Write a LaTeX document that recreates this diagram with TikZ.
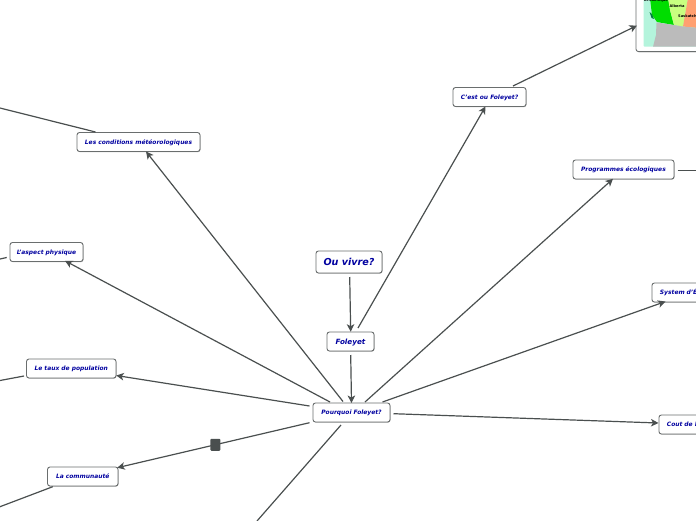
\documentclass[tikz,border=0pt]{standalone}
\usepackage{fontspec}
\setmainfont{DejaVu Sans}
\usetikzlibrary{arrows.meta,calc,shadows}
\definecolor{edgecol}{HTML}{4A4F4F}
\definecolor{txtcol}{HTML}{0000A0}
\definecolor{bordercol}{HTML}{6A6E6E}
\tikzset{
  topic/.style={draw=bordercol,fill=white,line width=0.9pt,rounded corners=2.5pt,inner sep=0pt,
    text=txtcol,font=\fontsize{5.95}{7}\selectfont\bfseries\itshape,text height=4.8pt,text depth=0pt,
    general shadow={shadow xshift=0.5pt,shadow yshift=-0.6pt,fill=gray!70}},
  conn/.style={draw=edgecol,line width=1.2pt},
  arr/.style={conn,-{Stealth[length=7.5pt,width=7.5pt,inset=2pt]}},
  maplabel/.style={font=\fontsize{3.6}{4}\selectfont\bfseries,text=black,inner sep=0pt},
}
\begin{document}
\begin{tikzpicture}[x=1pt,y=-1pt]
\useasboundingbox (0,0) rectangle (696,520);
\clip (0,0) rectangle (696,520);
% map card
\node[topic,minimum width=90pt,minimum height=90pt,anchor=south west] (map) at (635.5,52) {};
\fill[fill=white] (640,-5) rectangle (696,50);
\fill[fill={rgb,255:red,180;green,244;blue,220},rounded corners=1pt] (643.5,-5) rectangle (700,46.7);
\fill[fill={rgb,255:red,0;green,221;blue,0}] (650,-2) -- (652,15) -- (657,22) -- (674,25) -- (670,10) -- (668,-2) -- cycle;
\fill[fill={rgb,255:red,200;green,255;blue,128}] (668,-2) -- (670,10) -- (674,25) -- (683,26.5) -- (688,-2) -- cycle;
\fill[fill={rgb,255:red,255;green,160;blue,112}] (688,-2) -- (683,26.5) -- (698,28) -- (698,-2) -- cycle;
\fill[fill={rgb,255:red,187;green,187;blue,187}] (656.5,22.5) -- (674,25) -- (683,26.5) -- (698,28) -- (698,46.7) -- (653,46.7) -- (656,35) -- cycle;
\fill[fill={rgb,255:red,0;green,130;blue,60}] (649.5,12) -- (652,14) -- (654,19) -- (651.5,18) -- cycle;
\node[maplabel] (bc) at (656,1) {Britannique};
\node[maplabel] (ab) at (677,6) {Alberta};
\node[maplabel,anchor=west] (sk) at (678,16) {Saskatch};
% topics
\node[topic,minimum width=66pt,minimum height=22pt,font=\fontsize{9.6}{12}\selectfont\bfseries\itshape,text height=7pt] (ou) at (349,262) {Ou vivre?};
\node[topic,minimum width=47pt,minimum height=19pt,font=\fontsize{7.2}{9}\selectfont\bfseries\itshape,text height=5.5pt] (fol) at (350.5,341.5) {Foleyet};
\node[topic,minimum width=77pt,minimum height=19pt] (pq) at (351.5,412.5) {Pourquoi Foleyet?};
\node[topic,minimum width=73pt,minimum height=19pt] (cest) at (489.5,97) {C'est ou Foleyet?};
\node[topic,minimum width=101pt,minimum height=19pt] (prog) at (623.5,169.5) {Programmes écologiques};
\node[topic,minimum width=123pt,minimum height=19pt] (meteo) at (138.5,142) {Les conditions météorologiques};
\node[topic,minimum width=73pt,minimum height=19pt] (phys) at (46.5,252) {L'aspect physique};
\node[topic,minimum width=89.5pt,minimum height=19pt] (taux) at (71.25,368.5) {Le taux de population};
\node[topic,minimum width=70.5pt,minimum height=19pt] (comm) at (82.75,476.5) {La communauté};
\node[topic,minimum height=19pt,text width=80pt,align=left,inner xsep=8pt,anchor=west] (sys) at (651.5,292.5) {System d'É};
\node[topic,minimum height=19pt,text width=80pt,align=left,inner xsep=8pt,anchor=west] (cout) at (658.5,424.5) {Cout de l};
% free ends
\coordinate (fprog) at (696,170.7);
\coordinate (fmeteo) at (0,108);
\coordinate (fphys) at (0,259);
\coordinate (ftaux) at (0,380.5);
\coordinate (fcomm) at (0,506.7);
\coordinate (fbottom) at (257,521);
% connectors
\draw[arr] ($(ou)+(0.7,15)$) -- ($(fol)+(0.2,-9.8)$);
\draw[arr] ($(fol)+(0.2,13.5)$) -- ($(pq)+(0,-9.5)$);
\draw[arr] ($(fol)+(7.5,-13.5)$) -- ($(cest)+(-4,9.5)$);
\draw[arr] ($(cest)+(23.5,-11)$) -- ($(map.west)+(1.5,19)$);
\draw[arr] ($(pq)+(13.5,-10.5)$) -- ($(prog)+(-10.5,9.3)$);
\draw[arr] ($(pq)+(31,-10.5)$) -- ($(sys.west)+(14,9)$);
\draw[arr] ($(pq)+(42,1.2)$) -- ($(cout.west)+(0,-1.5)$);
\draw[arr] ($(pq)+(-8.5,-11)$) -- ($(meteo)+(7.5,9.5)$);
\draw[arr] ($(pq)+(-21.5,-10.5)$) -- ($(phys)+(18.5,8.8)$);
\draw[arr] ($(pq)+(-42,-6.5)$) -- ($(taux)+(45,7)$);
\draw[arr] ($(pq)+(-42,10.2)$) -- node[pos=0.49,fill=edgecol,minimum width=10pt,minimum height=12pt,inner sep=0pt,rounded corners=1pt] (mark) {} ($(comm)+(34.5,-8.8)$);
\draw[conn] ($(pq)+(-10.5,12.5)$) -- (fbottom);
\draw[conn] ($(prog)+(54.2,1.2)$) -- (fprog);
\draw[conn] ($(meteo)+(-43,-10)$) -- (fmeteo);
\draw[conn] ($(phys)+(-39.8,5.5)$) -- (fphys);
\draw[conn] ($(taux)+(-47.2,7.5)$) -- (ftaux);
\draw[conn] ($(comm)+(-30,10.2)$) -- (fcomm);
\end{tikzpicture}
\end{document}
